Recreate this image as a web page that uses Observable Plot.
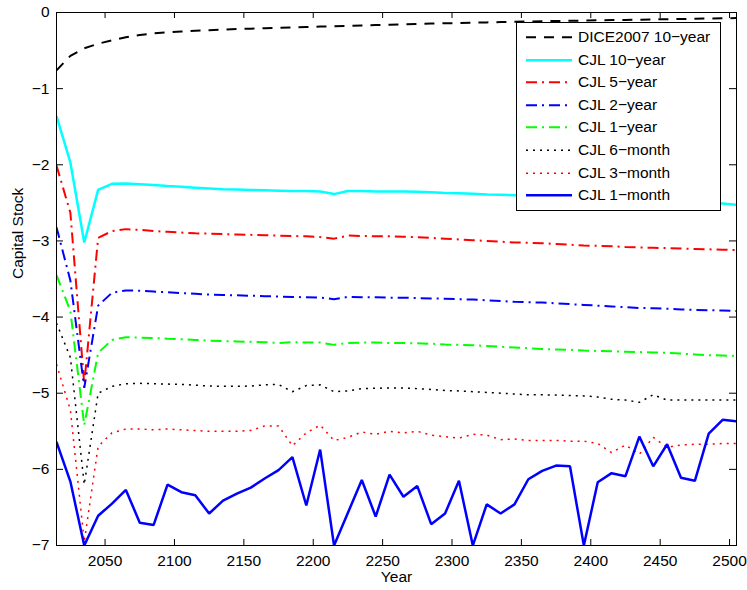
<!DOCTYPE html>
<html>
<head>
<meta charset="utf-8">
<script src="https://cdn.jsdelivr.net/npm/d3@7"></script>
<script src="https://cdn.jsdelivr.net/npm/@observablehq/plot@0.6"></script>
<style>
  html, body { margin: 0; padding: 0; background: #fff; }
  body { font-family: "Liberation Sans", Arial, Helvetica, sans-serif; }
  #wrap { position: relative; width: 747px; height: 590px; }
  #legend { position: absolute; left: 516px; top: 22px; width: 205px; height: 189px;
            box-sizing: border-box; border: 1px solid #000; background: #fff; padding-top: 3px; }
  .row { position: relative; height: 22.6px; }
  .row svg { position: absolute; left: 9px; top: 0; }
  .row span { position: absolute; left: 61px; top: 0; line-height: 22.6px; font-size: 15.5px; color: #000; white-space: nowrap; }
</style>
</head>
<body>
<div id="wrap"></div>
<script>
// ---------- data ----------
const years = [2015,2025,2035,2045,2055,2065,2075,2085,2095,2105,2115,2125,2135,2145,2155,2165,2175,2185,2195,2205,
               2215,2225,2235,2245,2255,2265,2275,2285,2295,2305,2315,2325,2335,2345,2355,2365,2375,2385,2395,2405,
               2415,2425,2435,2445,2455,2465,2475,2485,2495,2505];

const dice10y = [-0.76,-0.57,-0.47,-0.41,-0.365,-0.325,-0.295,-0.275,-0.26,-0.25,-0.24,-0.232,-0.225,-0.218,-0.212,-0.206,-0.2,-0.195,-0.19,-0.185,
                 -0.18,-0.175,-0.17,-0.165,-0.16,-0.155,-0.15,-0.146,-0.142,-0.138,-0.134,-0.13,-0.126,-0.122,-0.118,-0.115,-0.112,-0.109,-0.106,-0.103,
                 -0.1,-0.097,-0.094,-0.091,-0.088,-0.085,-0.082,-0.079,-0.076,-0.073];
const cjl10y = [-1.36,-1.97,-3.02,-2.33,-2.25,-2.245,-2.255,-2.265,-2.28,-2.29,-2.3,-2.31,-2.32,-2.325,-2.33,-2.335,-2.34,-2.345,-2.345,-2.35,
                -2.385,-2.345,-2.345,-2.35,-2.35,-2.35,-2.355,-2.36,-2.37,-2.375,-2.38,-2.39,-2.395,-2.4,-2.41,-2.415,-2.42,-2.43,-2.435,-2.44,
                -2.45,-2.455,-2.46,-2.47,-2.475,-2.48,-2.49,-2.5,-2.51,-2.525];
const cjl5y = [-2.01,-2.63,-4.88,-2.96,-2.87,-2.845,-2.855,-2.87,-2.88,-2.89,-2.9,-2.905,-2.91,-2.915,-2.92,-2.925,-2.93,-2.935,-2.94,-2.95,
               -2.97,-2.93,-2.935,-2.94,-2.94,-2.945,-2.95,-2.96,-2.97,-2.98,-2.99,-3.0,-3.01,-3.02,-3.025,-3.03,-3.04,-3.05,-3.06,-3.065,
               -3.07,-3.08,-3.085,-3.09,-3.095,-3.1,-3.105,-3.11,-3.115,-3.12];
const cjl2y = [-2.82,-3.52,-4.93,-3.85,-3.68,-3.65,-3.655,-3.665,-3.675,-3.685,-3.695,-3.705,-3.71,-3.715,-3.72,-3.725,-3.73,-3.735,-3.74,-3.745,
               -3.765,-3.735,-3.74,-3.74,-3.745,-3.745,-3.75,-3.755,-3.76,-3.765,-3.77,-3.78,-3.79,-3.8,-3.805,-3.81,-3.82,-3.83,-3.84,-3.85,
               -3.86,-3.87,-3.88,-3.885,-3.89,-3.9,-3.905,-3.91,-3.915,-3.92];
const cjl1y = [-3.45,-3.92,-5.42,-4.47,-4.3,-4.265,-4.27,-4.275,-4.285,-4.29,-4.3,-4.31,-4.315,-4.32,-4.325,-4.33,-4.34,-4.33,-4.335,-4.335,
               -4.365,-4.34,-4.335,-4.335,-4.34,-4.34,-4.345,-4.35,-4.36,-4.365,-4.37,-4.38,-4.39,-4.4,-4.41,-4.42,-4.425,-4.43,-4.44,-4.445,
               -4.45,-4.455,-4.46,-4.465,-4.47,-4.48,-4.49,-4.5,-4.505,-4.51];
const cjl6m = [-4.08,-4.53,-6.2,-5.0,-4.91,-4.875,-4.87,-4.875,-4.88,-4.885,-4.895,-4.905,-4.91,-4.91,-4.905,-4.89,-4.885,-4.98,-4.9,-4.89,
               -4.98,-4.97,-4.94,-4.935,-4.93,-4.93,-4.94,-4.95,-4.965,-4.97,-4.98,-4.99,-5.0,-5.01,-5.02,-5.02,-5.025,-5.03,-5.035,-5.05,
               -5.08,-5.09,-5.12,-5.02,-5.09,-5.09,-5.09,-5.09,-5.09,-5.09];
const cjl3m = [-4.62,-5.22,-6.95,-5.7,-5.52,-5.47,-5.47,-5.48,-5.47,-5.48,-5.49,-5.5,-5.5,-5.5,-5.49,-5.43,-5.43,-5.69,-5.52,-5.42,
               -5.62,-5.58,-5.51,-5.54,-5.5,-5.52,-5.5,-5.55,-5.57,-5.59,-5.54,-5.55,-5.61,-5.6,-5.62,-5.62,-5.62,-5.63,-5.63,-5.66,
               -5.78,-5.68,-5.8,-5.58,-5.71,-5.68,-5.67,-5.67,-5.66,-5.66];
const cjl1m = [-5.64,-6.16,-7.0,-6.61,-6.45,-6.27,-6.7,-6.73,-6.2,-6.3,-6.34,-6.58,-6.41,-6.32,-6.24,-6.12,-6.01,-5.84,-6.475,-5.74,
               -7.0,-6.57,-6.14,-6.62,-6.07,-6.36,-6.22,-6.72,-6.58,-6.15,-7.0,-6.46,-6.58,-6.46,-6.13,-6.02,-5.95,-5.96,-7.0,-6.17,
               -6.05,-6.09,-5.57,-5.96,-5.67,-6.11,-6.15,-5.53,-5.35,-5.37];

const seriesNames = ["DICE2007 10−year","CJL 10−year","CJL 5−year","CJL 2−year","CJL 1−year","CJL 6−month","CJL 3−month","CJL 1−month"];
const seriesValues = [dice10y, cjl10y, cjl5y, cjl2y, cjl1y, cjl6m, cjl3m, cjl1m];

const xTicks = [2050,2100,2150,2200,2250,2300,2350,2400,2450,2500];
const yTicks = [0,-1,-2,-3,-4,-5,-6,-7];
const xLabel = "Year";
const yLabel = "Capital Stock";

// ---------- styles ----------
const seriesStyles = [
  {stroke: "#000000", strokeWidth: 2,   dash: "10,8"},
  {stroke: "#00ffff", strokeWidth: 2.5, dash: null},
  {stroke: "#ff0000", strokeWidth: 2,   dash: "11,5,2,5"},
  {stroke: "#0000ff", strokeWidth: 2,   dash: "11,5,2,5"},
  {stroke: "#00ff00", strokeWidth: 2,   dash: "11,5,2,5"},
  {stroke: "#000000", strokeWidth: 1.5, dash: "2,5"},
  {stroke: "#ff0000", strokeWidth: 1.5, dash: "2,5"},
  {stroke: "#0000ff", strokeWidth: 2.5, dash: null}
];

const W = 747, H = 590, mL = 56, mR = 11, mT = 12, mB = 45;
const frameW = W - mL - mR, frameH = H - mT - mB;
const fmtY = d => d < 0 ? "\u2212" + Math.abs(d) : String(d);

const lineMarks = seriesValues.map((vals, i) => {
  const data = years.map((yr, j) => ({year: yr, value: vals[j]}));
  const s = seriesStyles[i];
  return Plot.line(data, {x: "year", y: "value", stroke: s.stroke, strokeWidth: s.strokeWidth,
    strokeDasharray: s.dash || undefined, strokeLinejoin: "miter", strokeLinecap: "butt", clip: true});
});

const chart = Plot.plot({
  width: W, height: H,
  marginLeft: mL, marginRight: mR, marginTop: mT, marginBottom: mB,
  style: {fontFamily: "'Liberation Sans', Arial, Helvetica, sans-serif", fontSize: "15.5px", color: "#000", background: "#fff"},
  x: {domain: [2015, 2505]},
  y: {domain: [-7, 0]},
  marks: [
    ...lineMarks,
    // inward ticks (bottom, top, left, right)
    Plot.ruleX(xTicks, {stroke: "#000", insetTop: frameH - 6}),
    Plot.ruleX(xTicks, {stroke: "#000", insetBottom: frameH - 6}),
    Plot.ruleY(yTicks, {stroke: "#000", insetRight: frameW - 7}),
    Plot.ruleY(yTicks, {stroke: "#000", insetLeft: frameW - 7}),
    Plot.frame({stroke: "#000", strokeWidth: 1}),
    Plot.axisX(xTicks, {tickSize: 0, tickPadding: 9, tickFormat: d => String(d), label: null, fill: "#000"}),
    Plot.axisY(yTicks, {tickSize: 0, tickPadding: 7, tickFormat: fmtY, label: null, fill: "#000"}),
    Plot.text([xLabel], {frameAnchor: "bottom", dy: 36, fill: "#000", fontSize: 15.5}),
    Plot.text([yLabel], {frameAnchor: "left", dx: -38, rotate: -90, fill: "#000", fontSize: 15.5})
  ]
});

const wrap = document.getElementById("wrap");
wrap.appendChild(chart);

// ---------- legend ----------
const legend = document.createElement("div");
legend.id = "legend";
seriesNames.forEach((name, i) => {
  const s = seriesStyles[i];
  const row = document.createElement("div");
  row.className = "row";
  const ns = "http://www.w3.org/2000/svg";
  const svg = document.createElementNS(ns, "svg");
  svg.setAttribute("width", "47");
  svg.setAttribute("height", "22.6");
  const ln = document.createElementNS(ns, "line");
  ln.setAttribute("x1", "0"); ln.setAttribute("x2", "46");
  ln.setAttribute("y1", "11.3"); ln.setAttribute("y2", "11.3");
  ln.setAttribute("stroke", s.stroke);
  ln.setAttribute("stroke-width", s.strokeWidth);
  if (s.dash) ln.setAttribute("stroke-dasharray", s.dash);
  svg.appendChild(ln);
  const span = document.createElement("span");
  span.textContent = name;
  row.appendChild(svg);
  row.appendChild(span);
  legend.appendChild(row);
});
wrap.appendChild(legend);
</script>
</body>
</html>
